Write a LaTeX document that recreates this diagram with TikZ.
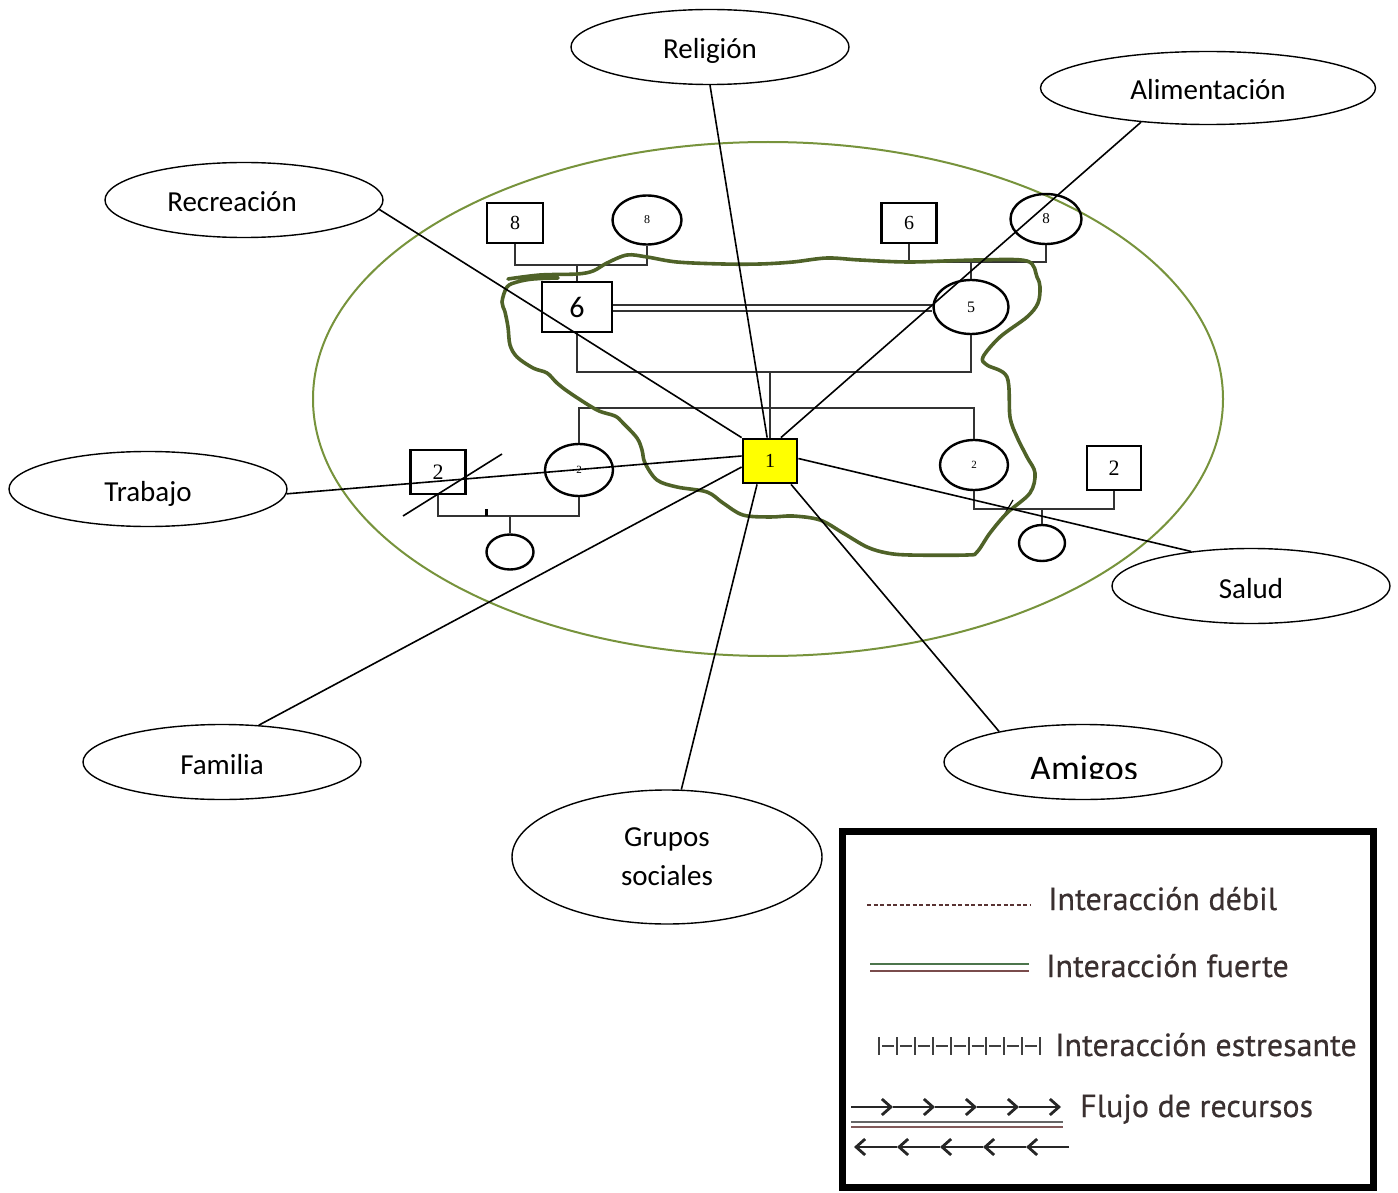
\documentclass[tikz,border=0pt]{standalone}
\usepackage{fontspec}
\setmainfont{Carlito}
\newfontfamily\serifnum{Liberation Serif}
\newfontfamily\legfont[FakeBold=0.5]{PT Sans}
\usetikzlibrary{shapes.geometric,arrows.meta,calc}
\definecolor{olivegreen}{HTML}{77933C}
\definecolor{darkolive}{HTML}{4F6228}
\definecolor{legtext}{HTML}{3A3030}
\definecolor{egoyellow}{HTML}{FFFF00}
\begin{document}
\begin{tikzpicture}[x=1pt,y=-1pt,
  lab/.style={ellipse, draw, line width=1.4, fill=white, inner sep=0,
    minimum width=278, minimum height=75, text height=24, text depth=0,
    font=\fontsize{29}{35}\selectfont},
  conn/.style={line width=1.6},
  gen/.style={line width=1.2, draw=black!80},
  sq/.style={rectangle, draw, line width=2.4, inner sep=0},
  ci/.style={ellipse, draw, line width=2.4, inner sep=0},
  num/.style={font=\serifnum\fontsize{#1}{#1}\selectfont},
  legt/.style={anchor=base west, inner sep=0, text=legtext,
    font=\legfont\fontsize{32}{36}\selectfont},
  legarrow/.style={line width=2.8, draw=black!85, -{Straight Barb[length=9pt,width=16pt,line width=2.8pt]}},
]
\useasboundingbox (0,0) rectangle (1398,1193);

% big ecomap ellipse
\draw[olivegreen, line width=2] (768,399) ellipse [x radius=455, y radius=257];

% ---------- genogram ----------
\node[sq, minimum width=56, minimum height=40, num=20] (sq8l) at (515,223) {8};
\node[ci, minimum width=69, minimum height=49, num=12] (c8l) at (647,220) {8};
\node[sq, minimum width=55, minimum height=40, num=20] (sq6r) at (909,223) {\raisebox{-3pt}{6}};
\node[ci, minimum width=71, minimum height=50, num=15] (c8r) at (1046,219) {8};
\node[sq, minimum width=70, minimum height=50, font=\fontsize{30}{30}\selectfont] (sq6) at (577,307) {\raisebox{-4pt}{6}};
\node[ci, minimum width=75, minimum height=54, num=16] (c5) at (971,307) {5};
\node[rectangle, draw, line width=2.8, fill=egoyellow, inner sep=0,
  minimum width=54, minimum height=44, num=20] (ego) at (770,461) {1};
\node[ci, minimum width=68, minimum height=52, num=11] (csl) at (579,470) {2};
\node[ci, minimum width=68, minimum height=50, num=11] (csr) at (974,465) {2};
\node[sq, minimum width=55, minimum height=44, num=22] (sqsl) at (438,472) {2};
\node[sq, minimum width=54, minimum height=44, num=22] (sqsr) at (1114,468) {2};
\node[ci, minimum width=47, minimum height=35] (chl) at (510,552) {};
\node[ci, minimum width=46, minimum height=36] (chr) at (1042,543) {};

% family lines
\draw[gen] (sq8l.south) -- (sq8l.south |- 0,265) -| (c8l.south);
\draw[gen] (sq6.north) -- (sq6.north |- 0,265);
\draw[gen] (sq6r.south) -- (sq6r.south |- 0,262) -| (c8r.south);
\draw[gen] (c5.north) -- (c5.north |- 0,262);
\draw[gen] (sq6.east |- 0,305) -- (c5.west |- 0,305);
\draw[gen] (sq6.east |- 0,311) -- (c5.west |- 0,311);
\draw[gen] (sq6.south) -- (sq6.south |- 0,372) -| (c5.south);
\draw[gen] (ego.north |- 0,372) -- (ego.north);
\draw[gen] (csl.north) -- (csl.north |- 0,408) -| (csr.north);
\draw[gen] (sqsl.south) -- (sqsl.south |- 0,516) -| (csl.south);
\draw[gen] (chl.north) -- (chl.north |- 0,516);
\draw[line width=3] (486,509) -- (486,516);
\draw[gen] (csr.south) -- (csr.south |- 0,509) -| (sqsr.south);
\draw[gen] (chr.north) -- (chr.north |- 0,509);
\draw[line width=1.2] (1003,517) -- (1013,500);
\draw[conn] ($(sqsl.center)+(-35,44)$) -- ($(sqsl.center)+(64,-18)$);

% freehand boundary
\draw[darkolive, line width=3.6, line cap=round, line join=round]
  plot[smooth, tension=0.55] coordinates {
  (558,278) (533,279) (517,282) (507,287) (502,302) (505,312) (508,327)
  (510,345) (517,357) (533,368) (547,373) (557,383) (570,393) (597,410)
  (615,416) (623,423) (637,438) (642,450) (645,463) (657,480) (677,487)
  (707,492) (723,503) (743,515) (770,517) (793,516) (820,520) (843,533)
  (867,547) (887,553) (910,555) (967,555) (977,552) (990,533) (1007,513)
  (1030,493) (1035,473) (1027,457) (1017,437) (1010,417) (1007,377)
  (987,365) (983,357) (1000,337) (1027,317) (1038,303) (1040,287)
  (1037,277) (1027,261) (977,260) (910,262) (860,260) (827,258) (793,262)
  (760,264) (723,264) (677,262) (647,257) (627,255) (607,263) (593,271)
  (577,274) (540,275) (508,279)};

% ---------- system labels ----------
\node[lab, minimum width=278] (rel) at (710,47) {Religión};
\node[lab, minimum width=335, minimum height=73] (alim) at (1208,88) {Alimentación};
\node[lab] (recr) at (244,200) {\hspace*{-24pt}Recreación};
\node[lab] (trab) at (148,489) {Trabajo};
\node[lab] (salud) at (1251,586) {Salud};
\node[lab] (fam) at (222,762) {Familia};
\node[lab] (amigos) at (1083,762) {};
\node[lab, minimum width=310, minimum height=134, align=center,
  text height=, text depth=, font=\fontsize{29}{39}\selectfont] (grupos) at (667,857) {Grupos\\sociales};
\begin{scope}
  \clip (940,700) rectangle (1230,778);
  \node[anchor=base, inner sep=0, font=\fontsize{36}{40}\selectfont] (amtext) at (1084,780) {Amigos};
\end{scope}

% connectors
\draw[conn] (rel.south) -- (ego.97);
\draw[conn] (alim.207) -- (ego.65);
\draw[conn] (recr.-4) -- (ego.north west);
\draw[conn] (trab.-2) -- (ego.170);
\draw[conn] (fam.45) -- (ego.192);
\draw[conn] (grupos.78) -- (ego.241);
\draw[conn] (amigos.160) -- (ego.-48);
\draw[conn] (salud.150) -- (ego.5);

% ---------- legend ----------
\draw[line width=7] (842,831) rectangle (1373,1187);
\draw[line width=1.8, draw=black!75!red!60!gray, dash pattern=on 4 off 2.5] (867,905) -- (1031,905);
\node[legt] (l1) at (1048,910) {Interacción débil};
\draw[line width=2.6, draw=black!60!green!40!gray] (870,964) -- (1029,964);
\draw[line width=2.6, draw=black!55!red!40!gray] (870,971) -- (1029,971);
\node[legt] (l2) at (1046,977) {Interacción fuerte};
\foreach \i in {0,...,9} {
  \draw[line width=2, draw=black!75] ({879+\i*17.9},1037) -- ({879+\i*17.9},1055);
}
\foreach \i in {0,...,8} {
  \draw[line width=1.8, draw=black!75] ({882+\i*17.9},1046) -- ({894+\i*17.9},1046);
}
\node[legt] (l3) at (1055,1056) {Interacción estresante};
\foreach \i in {0,...,4} {
  \draw[legarrow] ({851+\i*42},1107) -- ({893+\i*42},1107);
  \draw[legarrow] ({1069-\i*43},1147) -- ({1026-\i*43},1147);
}
\draw[line width=1.8, draw=black!60] (851,1122) -- (1063,1122);
\draw[line width=1.8, draw=black!50!red!30!gray] (851,1127) -- (1063,1127);
\node[legt] (l4) at (1080,1117) {Flujo de recursos};
\end{tikzpicture}
\end{document}
